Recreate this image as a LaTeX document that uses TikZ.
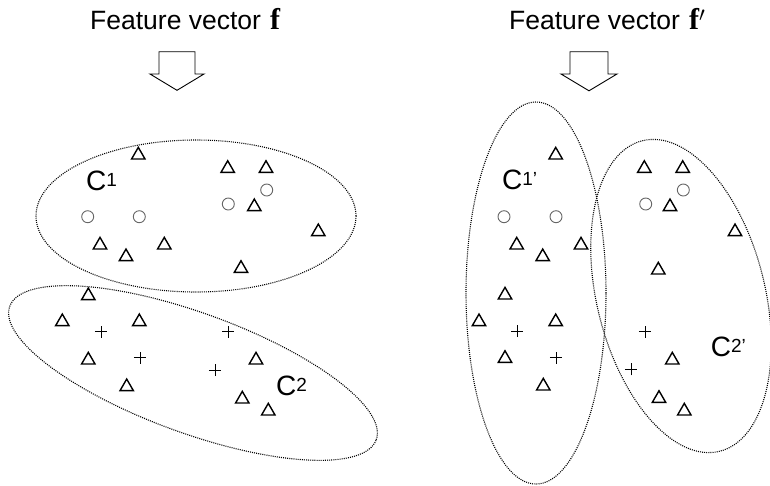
\documentclass[tikz,border=0pt]{standalone}
\usepackage{fontspec}
\setmainfont{Liberation Sans}
\newfontfamily\vecfont{Liberation Serif}
\usetikzlibrary{shapes.geometric}
\usetikzlibrary{shapes.misc}
\tikzset{cluster/.style={draw, ellipse, inner sep=0pt, outer sep=0pt, line width=1.1pt, dash pattern=on 1pt off 1.1pt}}
\newcommand{\clab}[1]{C\raisebox{4pt}{\fontsize{19}{19}\selectfont #1}}
\newcommand{\fvec}{{\vecfont\bfseries\fontsize{30}{30}\selectfont f}}

\begin{document}
\begin{tikzpicture}[x=1pt, y=-1pt,
    tri/.style={draw, regular polygon, regular polygon sides=3, minimum size=15.5pt, inner sep=0pt, line width=1.4pt, yshift=-1.8pt},
    ring/.style={draw=black!60, circle, minimum size=12pt, inner sep=0pt, line width=0.9pt},
    plusmark/.style={draw, cross out, rotate=45, minimum size=7.8pt, inner sep=0pt, line width=0.8pt},
    title/.style={anchor=base west, inner sep=0pt, font=\fontsize{26.5}{30}\selectfont},
    clabel/.style={anchor=base west, inner sep=0pt, font=\fontsize{28}{30}\selectfont},
    hollow/.style={draw, line width=0.9pt, line join=miter},
]
\useasboundingbox (0,0) rectangle (770,485);

% titles and arrows
\node[title] (titleL) at (90,29.3) {Feature vector\hspace{9pt}\fvec};
\node[title] (titleR) at (509,29.3) {Feature vector\hspace{9pt}\fvec\raisebox{-1pt}{\fontsize{30}{30}\selectfont$'$}};
\coordinate (arrL) at (177,51.7);
\coordinate (arrR) at (589,51.7);
\draw[hollow] (arrL) ++(-18,0) -- ++(0,22.3) -- ++(-9,0) -- ++(27,16.3) -- ++(27,-16.3) -- ++(-9,0) -- ++(0,-22.3) -- cycle;
\draw[hollow] (arrR) ++(-19,0) -- ++(0,22.3) -- ++(-9,0) -- ++(28,16.8) -- ++(28,-16.8) -- ++(-9,0) -- ++(0,-22.3) -- cycle;

% clusters
\node[cluster, minimum width=320pt, minimum height=152pt] (c1) at (196,216) {};
\node[cluster, minimum width=390pt, minimum height=120pt, rotate=-20] (c2) at (193,373) {};
\node[cluster, minimum width=140pt, minimum height=382pt] (c1p) at (536,293) {};
\node[cluster, minimum width=168pt, minimum height=320pt, rotate=14] (c2p) at (681,296) {};

\node[clabel] (lc1) at (86,190.7) {\clab{1}};
\node[clabel] (lc2) at (276,395) {\clab{2}};
\node[clabel] (lc1p) at (502,189.3) {\clab{1'}};
\node[clabel] (lc2p) at (710.7,356.7) {\clab{2'}};

% feature vector f
\node[tri] (t1) at (138.3,153.3) {};
\node[tri] (t2) at (227.7,166.7) {};
\node[tri] (t3) at (266,166.7) {};
\node[tri] (t4) at (254.3,205) {};
\node[tri] (t5) at (318.3,230) {};
\node[tri] (t6) at (100,243.3) {};
\node[tri] (t7) at (126,255) {};
\node[tri] (t8) at (164.3,243.3) {};
\node[tri] (t9) at (241,266.7) {};
\node[tri] (t10) at (88.3,294) {};
\node[tri] (t11) at (62.3,320) {};
\node[tri] (t12) at (139.3,320) {};
\node[tri] (t13) at (88.3,358.3) {};
\node[tri] (t14) at (256,358.3) {};
\node[tri] (t15) at (126.7,385) {};
\node[tri] (t16) at (242.3,397.3) {};
\node[tri] (t17) at (268.3,409.3) {};
\node[ring] (o1) at (87.7,216.7) {};
\node[ring] (o2) at (139.3,216.7) {};
\node[ring] (o3) at (228.3,204) {};
\node[ring] (o4) at (266.7,190) {};
\node[plusmark] (p1) at (101,331.7) {};
\node[plusmark] (p2) at (228.3,331.7) {};
\node[plusmark] (p3) at (140,357.7) {};
\node[plusmark] (p4) at (215,370) {};

% feature vector f'
\node[tri] (u1) at (555.7,153.3) {};
\node[tri] (u2) at (516.7,243.3) {};
\node[tri] (u3) at (542.7,255) {};
\node[tri] (u4) at (581,243.3) {};
\node[tri] (u5) at (505,293.3) {};
\node[tri] (u6) at (479,320) {};
\node[tri] (u7) at (555.7,320) {};
\node[tri] (u8) at (505,356.7) {};
\node[tri] (u9) at (543.3,384.3) {};
\node[tri] (u10) at (644.3,166.7) {};
\node[tri] (u11) at (682.7,166.7) {};
\node[tri] (u12) at (670,205) {};
\node[tri] (u13) at (735,230) {};
\node[tri] (u14) at (658.3,268.3) {};
\node[tri] (u15) at (672.3,358.3) {};
\node[tri] (u16) at (659,396.7) {};
\node[tri] (u17) at (684.3,409.3) {};
\node[ring] (q1) at (504,216.7) {};
\node[ring] (q2) at (556,216.7) {};
\node[ring] (q3) at (645.7,204) {};
\node[ring] (q4) at (683.3,190) {};
\node[plusmark] (r1) at (517.3,331) {};
\node[plusmark] (r2) at (556,357.7) {};
\node[plusmark] (r3) at (645,331.7) {};
\node[plusmark] (r4) at (631,369.3) {};

\end{tikzpicture}
\end{document}
